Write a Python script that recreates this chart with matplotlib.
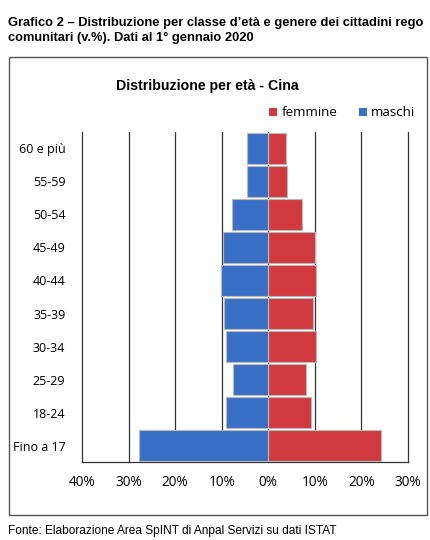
import numpy as np
import matplotlib.pyplot as plt
from matplotlib.patches import Rectangle

# Classi d'età e quote percentuali per genere (Cina, 1° gennaio 2020)
classi = ['Fino a 17', '18-24', '25-29', '30-34', '35-39',
          '40-44', '45-49', '50-54', '55-59', '60 e più']
maschi = np.array([27.7, 9.0, 7.5, 9.0, 9.4, 10.1, 9.8, 7.7, 4.5, 4.5])
femmine = np.array([24.2, 9.2, 8.1, 10.3, 9.7, 10.3, 10.1, 7.3, 4.1, 3.9])
tick_x = [-40, -30, -20, -10, 0, 10, 20, 30]
tick_lab = ['40%', '30%', '20%', '10%', '0%', '10%', '20%', '30%']

blu = '#3a6fc6'
rosso = '#d03a3e'
font_c = ['Open Sans', 'DejaVu Sans']
font_a = ['Liberation Sans', 'DejaVu Sans']

fig = plt.figure(figsize=(4.3, 5.4), dpi=100)
ax = fig.add_axes([0.1907, 0.1444, 0.758, 0.6112])

y = np.arange(len(classi))
ax.barh(y, femmine, height=0.93, color=rosso, edgecolor='#b8b8b8',
        linewidth=0.8, label='femmine', zorder=3)
ax.barh(y, -maschi, height=0.93, color=blu, edgecolor='#b8b8b8',
        linewidth=0.8, label='maschi', zorder=3)

ax.set_xlim(-40, 30)
ax.set_ylim(-0.5, len(classi) - 0.5)
for t in tick_x[1:-1]:
    ax.axvline(t, color='#333333', linewidth=0.9, zorder=1)
ax.axvline(30, color='#333333', linewidth=0.9, zorder=1, clip_on=False)

ax.set_xticks(tick_x)
ax.set_xticklabels(tick_lab, fontfamily=font_c, fontsize=9.8)
ax.set_yticks(y)
ax.set_yticklabels(classi, fontfamily=font_c, fontsize=9)
ax.tick_params(axis='both', length=0)
ax.tick_params(axis='x', pad=9)
ax.tick_params(axis='y', pad=12)
for s in ['top', 'right']:
    ax.spines[s].set_visible(False)
for s in ['left', 'bottom']:
    ax.spines[s].set_color('#333333')
    ax.spines[s].set_linewidth(0.9)

# cornice del grafico
fig.add_artist(Rectangle((9 / 430, 1 - 515 / 540), 418 / 430, 458 / 540,
                         transform=fig.transFigure, fill=False,
                         edgecolor='#555555', linewidth=1.0))

fig.text(207 / 430, 1 - 86 / 540, 'Distribuzione per età - Cina',
         ha='center', va='center', fontsize=10.2, fontweight='bold',
         family=font_a)

leg = fig.legend(loc='center', bbox_to_anchor=(342 / 430, 1 - 113 / 540),
                 ncol=2, frameon=False, handlelength=0.6, handleheight=0.6,
                 handletextpad=0.3, columnspacing=1.6,
                 prop={'family': font_c, 'size': 9.6})
for h in leg.legend_handles:
    h.set_edgecolor('none')

fig.text(8 / 430, 1 - 23 / 540,
         'Grafico 2 – Distribuzione per classe d’età e genere dei cittadini rego',
         ha='left', va='center', fontsize=9.3, fontweight='bold', family=font_a)
fig.text(8 / 430, 1 - 38 / 540,
         'comunitari (v.%). Dati al 1° gennaio 2020',
         ha='left', va='center', fontsize=9.3, fontweight='bold', family=font_a)
fig.text(8 / 430, 1 - 531 / 540,
         'Fonte: Elaborazione Area SpINT di Anpal Servizi su dati ISTAT',
         ha='left', va='center', fontsize=8.6, family=font_a)

fig.savefig('out.png', dpi=100)
